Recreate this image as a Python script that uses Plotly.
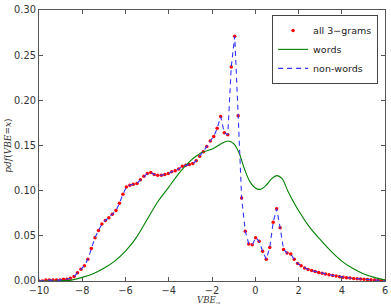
import plotly.graph_objects as go

# x grid of the sampled densities
x_vals = [-10.00, -9.84, -9.68, -9.52, -9.35, -9.19, -9.03, -8.87, -8.71, -8.55,
          -8.38, -8.22, -8.06, -7.90, -7.74, -7.58, -7.41, -7.25, -7.09, -6.93,
          -6.77, -6.61, -6.44, -6.28, -6.12, -5.96, -5.80, -5.64, -5.47, -5.31,
          -5.15, -4.99, -4.83, -4.67, -4.51, -4.34, -4.18, -4.02, -3.86, -3.70,
          -3.54, -3.37, -3.21, -3.05, -2.89, -2.73, -2.57, -2.40, -2.24, -2.08,
          -1.92, -1.76, -1.60, -1.43, -1.27, -1.11, -0.95, -0.79, -0.63, -0.46,
          -0.30, -0.14, 0.02, 0.18, 0.34, 0.51, 0.67, 0.83, 0.99, 1.15,
          1.31, 1.47, 1.64, 1.80, 1.96, 2.12, 2.28, 2.44, 2.61, 2.77,
          2.93, 3.09, 3.25, 3.41, 3.58, 3.74, 3.90, 4.06, 4.22, 4.38,
          4.55, 4.71, 4.87, 5.03, 5.19, 5.35, 5.52, 5.68, 5.84, 6.00]

all_3grams = [0.000, 0.000, 0.001, 0.001, 0.001, 0.001, 0.001, 0.002, 0.002, 0.003,
              0.005, 0.009, 0.013, 0.017, 0.024, 0.036, 0.048, 0.056, 0.063, 0.067,
              0.070, 0.074, 0.078, 0.086, 0.096, 0.104, 0.106, 0.107, 0.108, 0.112,
              0.116, 0.119, 0.120, 0.118, 0.117, 0.117, 0.118, 0.119, 0.121, 0.122,
              0.124, 0.127, 0.128, 0.129, 0.130, 0.133, 0.138, 0.143, 0.149, 0.155,
              0.160, 0.169, 0.182, 0.164, 0.162, 0.237, 0.271, 0.183, 0.092, 0.055,
              0.041, 0.040, 0.048, 0.044, 0.033, 0.024, 0.037, 0.065, 0.080, 0.059,
              0.035, 0.031, 0.030, 0.024, 0.0195, 0.017, 0.0145, 0.0128, 0.0115, 0.0105,
              0.0095, 0.0085, 0.0078, 0.0070, 0.0062, 0.0055, 0.0048, 0.0042, 0.0037, 0.0033,
              0.0029, 0.0026, 0.0023, 0.0020, 0.0017, 0.0014, 0.0011, 0.0008, 0.0005, 0.0003]

non_words = list(all_3grams)

words_x = [-10.0, -9.5, -9.0, -8.5, -8.0, -7.5, -7.0, -6.5, -6.0, -5.5, -5.0, -4.5,
           -4.0, -3.5, -3.0, -2.5, -2.0, -1.5, -1.25, -1.0, -0.75, -0.5, -0.25,
           0.0, 0.25, 0.5, 0.75, 1.0, 1.25, 1.5, 2.0, 2.5, 3.0, 3.5, 4.0, 4.5,
           5.0, 5.5, 6.0]
words_y = [0.0, 0.0, 0.0003, 0.001, 0.004, 0.008, 0.014, 0.022, 0.033, 0.048, 0.068, 0.088,
           0.104, 0.120, 0.133, 0.142, 0.146, 0.153, 0.155, 0.152, 0.142, 0.124, 0.110,
           0.103, 0.1015, 0.106, 0.113, 0.1166, 0.113, 0.100, 0.078, 0.060, 0.046, 0.033, 0.022, 0.014,
           0.008, 0.004, 0.001]

x_ticks = [-10, -8, -6, -4, -2, 0, 2, 4, 6]
y_ticks = [0.00, 0.05, 0.10, 0.15, 0.20, 0.25, 0.30]

fig = go.Figure()
fig.add_trace(go.Scatter(x=x_vals, y=all_3grams, mode="markers", name="all 3\u2212grams",
                         marker=dict(color="#ff0000", size=3.5, line=dict(width=0))))
fig.add_trace(go.Scatter(x=words_x, y=words_y, mode="lines", name="words",
                         line=dict(color="#008000", width=1.1, shape="spline", smoothing=0.8)))
fig.add_trace(go.Scatter(x=x_vals, y=non_words, mode="lines", name="non-words",
                         line=dict(color="#3333ff", width=1.1, dash="5px,4px")))

axis_common = dict(showgrid=False, zeroline=False, showline=True, mirror="ticks",
                   linecolor="#555555", linewidth=1.2, ticks="inside", ticklen=4,
                   tickcolor="#555555", ticklabeloverflow="allow",
                   tickfont=dict(family="DejaVu Sans", size=9.8, color="#333333"))

fig.update_xaxes(range=[-10, 6], tickvals=x_ticks, ticktext=[str(v).replace("-", "\u2212") for v in x_ticks],
                 **axis_common)
fig.update_yaxes(range=[0, 0.30], tickvals=y_ticks, ticktext=["%.2f" % v for v in y_ticks],
                 **axis_common)

fig.update_layout(
    width=391, height=305,
    margin=dict(l=39, r=3, t=10, b=24),
    paper_bgcolor="white", plot_bgcolor="white",
    showlegend=True,
    legend=dict(x=0.98, y=0.982, xanchor="right", yanchor="top",
                bgcolor="white", bordercolor="#444444", borderwidth=1,
                font=dict(family="DejaVu Sans", size=9.5, color="#222222"),
                tracegroupgap=0, itemwidth=30),
    annotations=[
        dict(text="<i>VBE</i><sub>\u2192</sub>", xref="paper", yref="paper", x=0.49, y=-0.073,
             xanchor="center", yanchor="middle", showarrow=False,
             font=dict(family="DejaVu Serif", size=8.5, color="#333333")),
        dict(text="<i>pdf</i>(<i>VBE</i>=<i>x</i>)", xref="paper", yref="paper", x=-0.092, y=0.5,
             xanchor="center", yanchor="middle", showarrow=False, textangle=-90,
             font=dict(family="DejaVu Serif", size=9, color="#333333")),
    ],
)

fig.write_html("out.html")
